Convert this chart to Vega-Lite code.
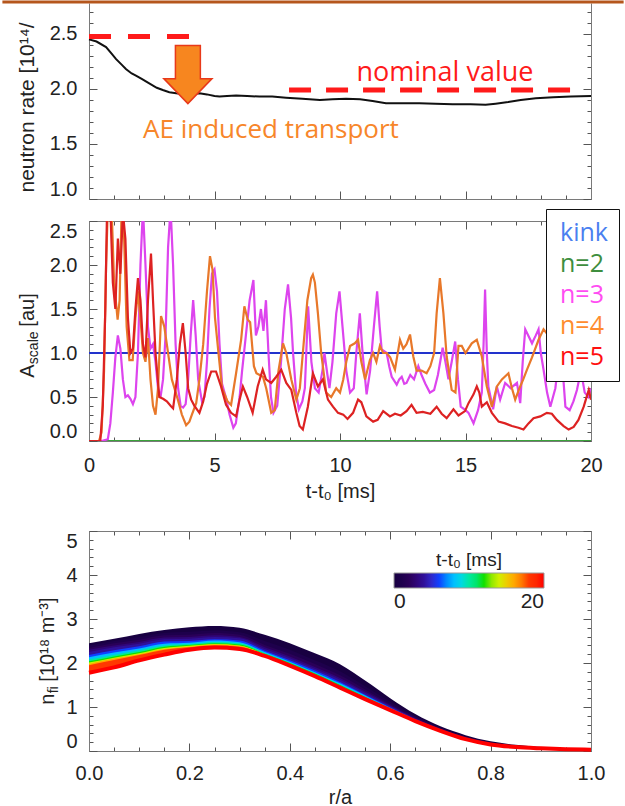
{
  "$schema": "https://vega.github.io/schema/vega-lite/v6.json",
  "padding": 0,
  "background": "white",
  "config": {
    "view": {"stroke": "#7a7a7a", "strokeWidth": 1},
    "axis": {"domainColor": "#7a7a7a", "tickColor": "#555555", "labelFont": "Liberation Sans", "labelFontSize": 20, "labelColor": "#222222", "titleFont": "Liberation Sans", "titleFontSize": 20, "titleFontWeight": "normal", "titleColor": "#222222", "grid": false, "labelOverlap": false, "labelBound": false}
  },
  "datasets": {
    "neutron": [{"t":0,"v":2.45},{"t":0.3,"v":2.43},{"t":0.68,"v":2.38},{"t":0.9,"v":2.32},{"t":1.08,"v":2.27},{"t":1.3,"v":2.22},{"t":1.47,"v":2.18},{"t":1.7,"v":2.14},{"t":1.87,"v":2.12},{"t":2.1,"v":2.09},{"t":2.4,"v":2.05},{"t":2.7,"v":2.01},{"t":2.94,"v":1.99},{"t":3.2,"v":1.97},{"t":3.47,"v":1.96},{"t":3.87,"v":1.95},{"t":4.1,"v":1.955},{"t":4.4,"v":1.96},{"t":4.7,"v":1.95},{"t":5.0,"v":1.935},{"t":5.2,"v":1.93},{"t":5.5,"v":1.935},{"t":5.86,"v":1.94},{"t":6.3,"v":1.935},{"t":6.79,"v":1.93},{"t":7.3,"v":1.93},{"t":7.85,"v":1.92},{"t":8.5,"v":1.91},{"t":9.2,"v":1.9},{"t":9.7,"v":1.905},{"t":10.24,"v":1.91},{"t":10.8,"v":1.905},{"t":11.3,"v":1.89},{"t":11.83,"v":1.87},{"t":12.5,"v":1.87},{"t":13.16,"v":1.87},{"t":13.8,"v":1.865},{"t":14.49,"v":1.86},{"t":15.2,"v":1.86},{"t":15.8,"v":1.855},{"t":16.2,"v":1.865},{"t":16.7,"v":1.88},{"t":17.2,"v":1.9},{"t":17.8,"v":1.915},{"t":18.5,"v":1.925},{"t":19.2,"v":1.93},{"t":20,"v":1.935}],
    "ascale": [
      {"s":"n=2","t":0,"v":0},{"s":"n=2","t":20,"v":0},
      {"s":"kink","t":0,"v":1},{"s":"kink","t":20,"v":1},
      {"s":"n=3","t":0,"v":0},{"s":"n=3","t":0.5,"v":0},{"s":"n=3","t":0.75,"v":0.02},{"s":"n=3","t":0.85,"v":0.2},{"s":"n=3","t":0.95,"v":0.55},{"s":"n=3","t":1.05,"v":0.95},{"s":"n=3","t":1.15,"v":1.2},{"s":"n=3","t":1.25,"v":1.05},{"s":"n=3","t":1.35,"v":0.7},{"s":"n=3","t":1.45,"v":0.5},{"s":"n=3","t":1.55,"v":0.52},{"s":"n=3","t":1.65,"v":0.48},{"s":"n=3","t":1.75,"v":0.42},{"s":"n=3","t":1.85,"v":0.5},{"s":"n=3","t":1.95,"v":1.0},{"s":"n=3","t":2.05,"v":2.0},{"s":"n=3","t":2.15,"v":2.65},{"s":"n=3","t":2.25,"v":2.0},{"s":"n=3","t":2.35,"v":1.3},{"s":"n=3","t":2.45,"v":1.05},{"s":"n=3","t":2.55,"v":1.1},{"s":"n=3","t":2.65,"v":0.9},{"s":"n=3","t":2.75,"v":0.6},{"s":"n=3","t":2.85,"v":0.5},{"s":"n=3","t":2.95,"v":0.7},{"s":"n=3","t":3.05,"v":1.2},{"s":"n=3","t":3.15,"v":2.2},{"s":"n=3","t":3.25,"v":2.65},{"s":"n=3","t":3.35,"v":2.0},{"s":"n=3","t":3.45,"v":1.1},{"s":"n=3","t":3.55,"v":0.6},{"s":"n=3","t":3.65,"v":0.4},{"s":"n=3","t":3.75,"v":0.38},{"s":"n=3","t":3.85,"v":0.42},{"s":"n=3","t":3.95,"v":0.7},{"s":"n=3","t":4.05,"v":1.2},{"s":"n=3","t":4.15,"v":1.6},{"s":"n=3","t":4.25,"v":1.2},{"s":"n=3","t":4.35,"v":0.7},{"s":"n=3","t":4.5,"v":0.45},{"s":"n=3","t":4.6,"v":0.5},{"s":"n=3","t":4.7,"v":0.9},{"s":"n=3","t":4.8,"v":1.5},{"s":"n=3","t":4.9,"v":1.9},{"s":"n=3","t":5.0,"v":1.95},{"s":"n=3","t":5.1,"v":1.7},{"s":"n=3","t":5.2,"v":1.1},{"s":"n=3","t":5.3,"v":0.65},{"s":"n=3","t":5.45,"v":0.5},{"s":"n=3","t":5.6,"v":0.3},{"s":"n=3","t":5.75,"v":0.15},{"s":"n=3","t":5.85,"v":0.2},{"s":"n=3","t":6.0,"v":0.5},{"s":"n=3","t":6.1,"v":0.8},{"s":"n=3","t":6.25,"v":1.2},{"s":"n=3","t":6.4,"v":1.6},{"s":"n=3","t":6.55,"v":1.83},{"s":"n=3","t":6.65,"v":1.2},{"s":"n=3","t":6.75,"v":1.3},{"s":"n=3","t":6.85,"v":1.5},{"s":"n=3","t":6.95,"v":1.25},{"s":"n=3","t":7.05,"v":1.6},{"s":"n=3","t":7.15,"v":1.0},{"s":"n=3","t":7.25,"v":0.5},{"s":"n=3","t":7.35,"v":0.32},{"s":"n=3","t":7.5,"v":0.4},{"s":"n=3","t":7.65,"v":0.9},{"s":"n=3","t":7.8,"v":1.5},{"s":"n=3","t":7.93,"v":1.78},{"s":"n=3","t":8.05,"v":1.4},{"s":"n=3","t":8.13,"v":1.0},{"s":"n=3","t":8.25,"v":0.55},{"s":"n=3","t":8.36,"v":0.36},{"s":"n=3","t":8.5,"v":0.45},{"s":"n=3","t":8.6,"v":0.6},{"s":"n=3","t":8.73,"v":1.53},{"s":"n=3","t":8.86,"v":0.9},{"s":"n=3","t":9.0,"v":0.6},{"s":"n=3","t":9.15,"v":0.55},{"s":"n=3","t":9.3,"v":0.8},{"s":"n=3","t":9.38,"v":1.0},{"s":"n=3","t":9.5,"v":0.75},{"s":"n=3","t":9.58,"v":0.6},{"s":"n=3","t":9.7,"v":0.9},{"s":"n=3","t":9.85,"v":1.45},{"s":"n=3","t":9.98,"v":1.7},{"s":"n=3","t":10.1,"v":1.3},{"s":"n=3","t":10.25,"v":0.8},{"s":"n=3","t":10.4,"v":0.55},{"s":"n=3","t":10.55,"v":0.6},{"s":"n=3","t":10.65,"v":1.0},{"s":"n=3","t":10.79,"v":1.45},{"s":"n=3","t":10.9,"v":1.0},{"s":"n=3","t":11.06,"v":0.53},{"s":"n=3","t":11.2,"v":0.8},{"s":"n=3","t":11.35,"v":1.3},{"s":"n=3","t":11.48,"v":1.7},{"s":"n=3","t":11.58,"v":1.3},{"s":"n=3","t":11.66,"v":1.04},{"s":"n=3","t":11.86,"v":1.0},{"s":"n=3","t":11.96,"v":0.85},{"s":"n=3","t":12.06,"v":0.73},{"s":"n=3","t":12.26,"v":0.64},{"s":"n=3","t":12.36,"v":0.7},{"s":"n=3","t":12.46,"v":0.73},{"s":"n=3","t":12.56,"v":0.65},{"s":"n=3","t":12.65,"v":0.66},{"s":"n=3","t":12.8,"v":0.75},{"s":"n=3","t":12.95,"v":0.7},{"s":"n=3","t":13.12,"v":0.85},{"s":"n=3","t":13.25,"v":0.75},{"s":"n=3","t":13.4,"v":0.65},{"s":"n=3","t":13.58,"v":0.55},{"s":"n=3","t":13.75,"v":0.58},{"s":"n=3","t":13.9,"v":0.75},{"s":"n=3","t":14.09,"v":1.06},{"s":"n=3","t":14.2,"v":0.9},{"s":"n=3","t":14.32,"v":0.7},{"s":"n=3","t":14.45,"v":0.9},{"s":"n=3","t":14.59,"v":1.13},{"s":"n=3","t":14.7,"v":0.7},{"s":"n=3","t":14.81,"v":0.39},{"s":"n=3","t":15.0,"v":0.35},{"s":"n=3","t":15.12,"v":0.32},{"s":"n=3","t":15.32,"v":0.2},{"s":"n=3","t":15.5,"v":0.35},{"s":"n=3","t":15.65,"v":0.55},{"s":"n=3","t":15.72,"v":1.1},{"s":"n=3","t":15.78,"v":1.72},{"s":"n=3","t":15.85,"v":1.0},{"s":"n=3","t":15.91,"v":0.62},{"s":"n=3","t":16.1,"v":0.36},{"s":"n=3","t":16.25,"v":0.62},{"s":"n=3","t":16.38,"v":0.47},{"s":"n=3","t":16.58,"v":0.66},{"s":"n=3","t":16.8,"v":0.6},{"s":"n=3","t":17.05,"v":0.66},{"s":"n=3","t":17.18,"v":0.43},{"s":"n=3","t":17.28,"v":0.9},{"s":"n=3","t":17.38,"v":1.27},{"s":"n=3","t":17.5,"v":1.2},{"s":"n=3","t":17.65,"v":1.11},{"s":"n=3","t":17.8,"v":1.2},{"s":"n=3","t":17.91,"v":1.27},{"s":"n=3","t":18.0,"v":1.0},{"s":"n=3","t":18.11,"v":0.81},{"s":"n=3","t":18.25,"v":0.55},{"s":"n=3","t":18.38,"v":0.39},{"s":"n=3","t":18.58,"v":0.6},{"s":"n=3","t":18.78,"v":1.08},{"s":"n=3","t":18.9,"v":0.7},{"s":"n=3","t":18.98,"v":0.39},{"s":"n=3","t":19.15,"v":0.35},{"s":"n=3","t":19.3,"v":0.45},{"s":"n=3","t":19.44,"v":0.58},{"s":"n=3","t":19.6,"v":0.8},{"s":"n=3","t":19.75,"v":0.55},{"s":"n=3","t":19.9,"v":0.5},{"s":"n=3","t":20.0,"v":0.6},
      {"s":"n=4","t":0,"v":0},{"s":"n=4","t":0.4,"v":0},{"s":"n=4","t":0.5,"v":0.1},{"s":"n=4","t":0.6,"v":0.8},{"s":"n=4","t":0.68,"v":2.0},{"s":"n=4","t":0.75,"v":2.65},{"s":"n=4","t":0.9,"v":2.65},{"s":"n=4","t":1.0,"v":1.8},{"s":"n=4","t":1.14,"v":1.38},{"s":"n=4","t":1.22,"v":1.6},{"s":"n=4","t":1.3,"v":2.65},{"s":"n=4","t":1.4,"v":2.3},{"s":"n=4","t":1.5,"v":1.3},{"s":"n=4","t":1.61,"v":0.92},{"s":"n=4","t":1.74,"v":0.92},{"s":"n=4","t":1.85,"v":1.4},{"s":"n=4","t":1.95,"v":1.7},{"s":"n=4","t":2.05,"v":1.4},{"s":"n=4","t":2.15,"v":1.0},{"s":"n=4","t":2.25,"v":0.9},{"s":"n=4","t":2.35,"v":1.17},{"s":"n=4","t":2.45,"v":0.7},{"s":"n=4","t":2.55,"v":0.4},{"s":"n=4","t":2.65,"v":0.3},{"s":"n=4","t":2.75,"v":0.6},{"s":"n=4","t":2.87,"v":1.42},{"s":"n=4","t":3.0,"v":1.3},{"s":"n=4","t":3.1,"v":1.1},{"s":"n=4","t":3.3,"v":0.7},{"s":"n=4","t":3.54,"v":0.47},{"s":"n=4","t":3.7,"v":0.3},{"s":"n=4","t":3.87,"v":0.18},{"s":"n=4","t":4.0,"v":0.22},{"s":"n=4","t":4.1,"v":0.3},{"s":"n=4","t":4.27,"v":0.43},{"s":"n=4","t":4.4,"v":0.7},{"s":"n=4","t":4.55,"v":1.1},{"s":"n=4","t":4.7,"v":1.7},{"s":"n=4","t":4.82,"v":2.1},{"s":"n=4","t":4.92,"v":1.95},{"s":"n=4","t":5.02,"v":1.4},{"s":"n=4","t":5.13,"v":1.08},{"s":"n=4","t":5.3,"v":0.6},{"s":"n=4","t":5.52,"v":0.45},{"s":"n=4","t":5.66,"v":0.41},{"s":"n=4","t":5.86,"v":0.77},{"s":"n=4","t":6.06,"v":1.15},{"s":"n=4","t":6.19,"v":1.53},{"s":"n=4","t":6.32,"v":1.38},{"s":"n=4","t":6.42,"v":1.35},{"s":"n=4","t":6.57,"v":0.85},{"s":"n=4","t":6.67,"v":0.77},{"s":"n=4","t":6.8,"v":0.75},{"s":"n=4","t":6.93,"v":0.73},{"s":"n=4","t":7.06,"v":0.6},{"s":"n=4","t":7.26,"v":0.32},{"s":"n=4","t":7.4,"v":0.35},{"s":"n=4","t":7.55,"v":0.8},{"s":"n=4","t":7.73,"v":1.11},{"s":"n=4","t":7.86,"v":1.0},{"s":"n=4","t":8.06,"v":0.7},{"s":"n=4","t":8.26,"v":0.47},{"s":"n=4","t":8.4,"v":0.6},{"s":"n=4","t":8.55,"v":1.1},{"s":"n=4","t":8.7,"v":1.6},{"s":"n=4","t":8.85,"v":1.85},{"s":"n=4","t":8.92,"v":1.89},{"s":"n=4","t":9.0,"v":1.8},{"s":"n=4","t":9.12,"v":1.45},{"s":"n=4","t":9.25,"v":1.0},{"s":"n=4","t":9.45,"v":0.55},{"s":"n=4","t":9.65,"v":0.5},{"s":"n=4","t":9.85,"v":0.6},{"s":"n=4","t":10.0,"v":0.55},{"s":"n=4","t":10.13,"v":0.7},{"s":"n=4","t":10.25,"v":0.9},{"s":"n=4","t":10.4,"v":1.08},{"s":"n=4","t":10.59,"v":1.11},{"s":"n=4","t":10.72,"v":1.15},{"s":"n=4","t":10.85,"v":0.9},{"s":"n=4","t":11.0,"v":0.7},{"s":"n=4","t":11.19,"v":0.92},{"s":"n=4","t":11.32,"v":1.0},{"s":"n=4","t":11.45,"v":0.9},{"s":"n=4","t":11.59,"v":1.08},{"s":"n=4","t":11.72,"v":1.0},{"s":"n=4","t":11.86,"v":1.0},{"s":"n=4","t":12.0,"v":0.95},{"s":"n=4","t":12.19,"v":0.81},{"s":"n=4","t":12.39,"v":1.15},{"s":"n=4","t":12.52,"v":1.05},{"s":"n=4","t":12.65,"v":1.1},{"s":"n=4","t":12.79,"v":1.21},{"s":"n=4","t":12.92,"v":0.96},{"s":"n=4","t":13.05,"v":0.8},{"s":"n=4","t":13.25,"v":0.8},{"s":"n=4","t":13.45,"v":0.77},{"s":"n=4","t":13.6,"v":0.85},{"s":"n=4","t":13.75,"v":1.0},{"s":"n=4","t":13.85,"v":1.45},{"s":"n=4","t":13.98,"v":1.85},{"s":"n=4","t":14.12,"v":1.45},{"s":"n=4","t":14.25,"v":0.96},{"s":"n=4","t":14.45,"v":0.58},{"s":"n=4","t":14.6,"v":0.55},{"s":"n=4","t":14.72,"v":1.08},{"s":"n=4","t":14.85,"v":1.08},{"s":"n=4","t":15.0,"v":1.0},{"s":"n=4","t":15.25,"v":1.11},{"s":"n=4","t":15.45,"v":1.15},{"s":"n=4","t":15.65,"v":0.96},{"s":"n=4","t":15.85,"v":0.62},{"s":"n=4","t":16.05,"v":0.39},{"s":"n=4","t":16.25,"v":0.62},{"s":"n=4","t":16.45,"v":0.7},{"s":"n=4","t":16.71,"v":0.77},{"s":"n=4","t":16.85,"v":0.6},{"s":"n=4","t":16.98,"v":0.47},{"s":"n=4","t":17.15,"v":0.6},{"s":"n=4","t":17.3,"v":0.7},{"s":"n=4","t":17.45,"v":0.81},{"s":"n=4","t":17.65,"v":0.95},{"s":"n=4","t":17.91,"v":1.15},{"s":"n=4","t":18.11,"v":1.27},{"s":"n=4","t":18.3,"v":1.2},{"s":"n=4","t":18.6,"v":1.1},{"s":"n=4","t":19.0,"v":0.9},{"s":"n=4","t":19.4,"v":1.0},{"s":"n=4","t":19.7,"v":0.8},{"s":"n=4","t":20.0,"v":0.7},
      {"s":"n=5","t":0,"v":0},{"s":"n=5","t":0.45,"v":0},{"s":"n=5","t":0.55,"v":0.4},{"s":"n=5","t":0.65,"v":1.5},{"s":"n=5","t":0.72,"v":2.65},{"s":"n=5","t":0.85,"v":2.65},{"s":"n=5","t":0.95,"v":1.8},{"s":"n=5","t":1.05,"v":1.5},{"s":"n=5","t":1.15,"v":2.3},{"s":"n=5","t":1.25,"v":1.9},{"s":"n=5","t":1.35,"v":2.6},{"s":"n=5","t":1.45,"v":2.3},{"s":"n=5","t":1.55,"v":1.4},{"s":"n=5","t":1.65,"v":1.0},{"s":"n=5","t":1.75,"v":1.05},{"s":"n=5","t":1.85,"v":1.5},{"s":"n=5","t":1.95,"v":1.85},{"s":"n=5","t":2.05,"v":1.6},{"s":"n=5","t":2.15,"v":1.1},{"s":"n=5","t":2.25,"v":0.95},{"s":"n=5","t":2.35,"v":1.6},{"s":"n=5","t":2.47,"v":2.13},{"s":"n=5","t":2.55,"v":1.6},{"s":"n=5","t":2.65,"v":1.0},{"s":"n=5","t":2.8,"v":0.5},{"s":"n=5","t":2.95,"v":0.48},{"s":"n=5","t":3.1,"v":0.45},{"s":"n=5","t":3.25,"v":0.4},{"s":"n=5","t":3.35,"v":0.37},{"s":"n=5","t":3.5,"v":0.7},{"s":"n=5","t":3.62,"v":1.1},{"s":"n=5","t":3.74,"v":1.34},{"s":"n=5","t":3.85,"v":1.0},{"s":"n=5","t":3.95,"v":0.6},{"s":"n=5","t":4.07,"v":0.47},{"s":"n=5","t":4.2,"v":0.4},{"s":"n=5","t":4.4,"v":0.32},{"s":"n=5","t":4.55,"v":0.45},{"s":"n=5","t":4.7,"v":0.65},{"s":"n=5","t":4.87,"v":0.79},{"s":"n=5","t":5.06,"v":0.79},{"s":"n=5","t":5.26,"v":0.62},{"s":"n=5","t":5.46,"v":0.41},{"s":"n=5","t":5.66,"v":0.32},{"s":"n=5","t":5.86,"v":0.28},{"s":"n=5","t":6.0,"v":0.47},{"s":"n=5","t":6.13,"v":0.62},{"s":"n=5","t":6.3,"v":0.5},{"s":"n=5","t":6.52,"v":0.32},{"s":"n=5","t":6.72,"v":0.62},{"s":"n=5","t":6.92,"v":0.81},{"s":"n=5","t":7.05,"v":0.7},{"s":"n=5","t":7.26,"v":0.66},{"s":"n=5","t":7.46,"v":0.73},{"s":"n=5","t":7.66,"v":0.81},{"s":"n=5","t":7.86,"v":0.66},{"s":"n=5","t":8.06,"v":0.58},{"s":"n=5","t":8.26,"v":0.32},{"s":"n=5","t":8.39,"v":0.17},{"s":"n=5","t":8.52,"v":0.13},{"s":"n=5","t":8.72,"v":0.39},{"s":"n=5","t":8.92,"v":0.77},{"s":"n=5","t":9.12,"v":0.62},{"s":"n=5","t":9.32,"v":0.7},{"s":"n=5","t":9.52,"v":0.47},{"s":"n=5","t":9.72,"v":0.39},{"s":"n=5","t":9.92,"v":0.32},{"s":"n=5","t":10.13,"v":0.3},{"s":"n=5","t":10.3,"v":0.25},{"s":"n=5","t":10.52,"v":0.32},{"s":"n=5","t":10.72,"v":0.47},{"s":"n=5","t":10.85,"v":0.44},{"s":"n=5","t":11.05,"v":0.28},{"s":"n=5","t":11.32,"v":0.22},{"s":"n=5","t":11.5,"v":0.24},{"s":"n=5","t":11.72,"v":0.34},{"s":"n=5","t":11.99,"v":0.28},{"s":"n=5","t":12.19,"v":0.31},{"s":"n=5","t":12.42,"v":0.29},{"s":"n=5","t":12.65,"v":0.34},{"s":"n=5","t":12.85,"v":0.41},{"s":"n=5","t":13.05,"v":0.32},{"s":"n=5","t":13.3,"v":0.33},{"s":"n=5","t":13.6,"v":0.31},{"s":"n=5","t":13.85,"v":0.39},{"s":"n=5","t":14.05,"v":0.31},{"s":"n=5","t":14.25,"v":0.26},{"s":"n=5","t":14.52,"v":0.36},{"s":"n=5","t":14.72,"v":0.29},{"s":"n=5","t":14.98,"v":0.34},{"s":"n=5","t":15.12,"v":0.43},{"s":"n=5","t":15.32,"v":0.53},{"s":"n=5","t":15.45,"v":0.62},{"s":"n=5","t":15.55,"v":0.55},{"s":"n=5","t":15.65,"v":0.39},{"s":"n=5","t":15.85,"v":0.44},{"s":"n=5","t":16.05,"v":0.32},{"s":"n=5","t":16.32,"v":0.22},{"s":"n=5","t":16.58,"v":0.2},{"s":"n=5","t":16.85,"v":0.17},{"s":"n=5","t":17.11,"v":0.15},{"s":"n=5","t":17.31,"v":0.13},{"s":"n=5","t":17.51,"v":0.2},{"s":"n=5","t":17.71,"v":0.26},{"s":"n=5","t":17.98,"v":0.28},{"s":"n=5","t":18.24,"v":0.32},{"s":"n=5","t":18.44,"v":0.31},{"s":"n=5","t":18.64,"v":0.24},{"s":"n=5","t":18.91,"v":0.17},{"s":"n=5","t":19.11,"v":0.13},{"s":"n=5","t":19.31,"v":0.16},{"s":"n=5","t":19.5,"v":0.24},{"s":"n=5","t":19.71,"v":0.39},{"s":"n=5","t":19.91,"v":0.58},{"s":"n=5","t":20.0,"v":0.47}
    ],
    "nfi": [
      {"t":0,"r":0,"n":2.45},{"t":0,"r":0.05,"n":2.55},{"t":0,"r":0.1,"n":2.66},{"t":0,"r":0.15,"n":2.75},{"t":0,"r":0.2,"n":2.81},{"t":0,"r":0.25,"n":2.84},{"t":0,"r":0.3,"n":2.8},{"t":0,"r":0.35,"n":2.64},{"t":0,"r":0.4,"n":2.45},{"t":0,"r":0.45,"n":2.22},{"t":0,"r":0.5,"n":1.97},{"t":0,"r":0.55,"n":1.6},{"t":0,"r":0.6,"n":1.2},{"t":0,"r":0.65,"n":0.84},{"t":0,"r":0.7,"n":0.56},{"t":0,"r":0.75,"n":0.36},{"t":0,"r":0.8,"n":0.22},{"t":0,"r":0.85,"n":0.14},{"t":0,"r":0.9,"n":0.09},{"t":0,"r":0.95,"n":0.06},{"t":0,"r":1,"n":0.04},
      {"t":1,"r":0,"n":2.4},{"t":1,"r":0.05,"n":2.5},{"t":1,"r":0.1,"n":2.59},{"t":1,"r":0.15,"n":2.68},{"t":1,"r":0.2,"n":2.71},{"t":1,"r":0.25,"n":2.74},{"t":1,"r":0.3,"n":2.7},{"t":1,"r":0.35,"n":2.5},{"t":1,"r":0.4,"n":2.3},{"t":1,"r":0.45,"n":2.06},{"t":1,"r":0.5,"n":1.81},{"t":1,"r":0.55,"n":1.47},{"t":1,"r":0.6,"n":1.12},{"t":1,"r":0.65,"n":0.79},{"t":1,"r":0.7,"n":0.53},{"t":1,"r":0.75,"n":0.333},{"t":1,"r":0.8,"n":0.199},{"t":1,"r":0.85,"n":0.125},{"t":1,"r":0.9,"n":0.081},{"t":1,"r":0.95,"n":0.054},{"t":1,"r":1,"n":0.037},
      {"t":2,"r":0,"n":2.34},{"t":2,"r":0.05,"n":2.45},{"t":2,"r":0.1,"n":2.53},{"t":2,"r":0.15,"n":2.63},{"t":2,"r":0.2,"n":2.64},{"t":2,"r":0.25,"n":2.68},{"t":2,"r":0.3,"n":2.64},{"t":2,"r":0.35,"n":2.41},{"t":2,"r":0.4,"n":2.21},{"t":2,"r":0.45,"n":1.98},{"t":2,"r":0.5,"n":1.72},{"t":2,"r":0.55,"n":1.4},{"t":2,"r":0.6,"n":1.07},{"t":2,"r":0.65,"n":0.765},{"t":2,"r":0.7,"n":0.513},{"t":2,"r":0.75,"n":0.318},{"t":2,"r":0.8,"n":0.187},{"t":2,"r":0.85,"n":0.117},{"t":2,"r":0.9,"n":0.076},{"t":2,"r":0.95,"n":0.051},{"t":2,"r":1,"n":0.035},
      {"t":3,"r":0,"n":2.3},{"t":3,"r":0.05,"n":2.4},{"t":3,"r":0.1,"n":2.48},{"t":3,"r":0.15,"n":2.58},{"t":3,"r":0.2,"n":2.59},{"t":3,"r":0.25,"n":2.63},{"t":3,"r":0.3,"n":2.59},{"t":3,"r":0.35,"n":2.36},{"t":3,"r":0.4,"n":2.15},{"t":3,"r":0.45,"n":1.91},{"t":3,"r":0.5,"n":1.66},{"t":3,"r":0.55,"n":1.35},{"t":3,"r":0.6,"n":1.04},{"t":3,"r":0.65,"n":0.746},{"t":3,"r":0.7,"n":0.501},{"t":3,"r":0.75,"n":0.307},{"t":3,"r":0.8,"n":0.179},{"t":3,"r":0.85,"n":0.11},{"t":3,"r":0.9,"n":0.072},{"t":3,"r":0.95,"n":0.048},{"t":3,"r":1,"n":0.034},
      {"t":4,"r":0,"n":2.25},{"t":4,"r":0.05,"n":2.36},{"t":4,"r":0.1,"n":2.44},{"t":4,"r":0.15,"n":2.54},{"t":4,"r":0.2,"n":2.55},{"t":4,"r":0.25,"n":2.59},{"t":4,"r":0.3,"n":2.56},{"t":4,"r":0.35,"n":2.32},{"t":4,"r":0.4,"n":2.11},{"t":4,"r":0.45,"n":1.87},{"t":4,"r":0.5,"n":1.62},{"t":4,"r":0.55,"n":1.32},{"t":4,"r":0.6,"n":1.02},{"t":4,"r":0.65,"n":0.733},{"t":4,"r":0.7,"n":0.493},{"t":4,"r":0.75,"n":0.3},{"t":4,"r":0.8,"n":0.173},{"t":4,"r":0.85,"n":0.107},{"t":4,"r":0.9,"n":0.07},{"t":4,"r":0.95,"n":0.047},{"t":4,"r":1,"n":0.033},
      {"t":6,"r":0,"n":2.18},{"t":6,"r":0.05,"n":2.29},{"t":6,"r":0.1,"n":2.38},{"t":6,"r":0.15,"n":2.49},{"t":6,"r":0.2,"n":2.5},{"t":6,"r":0.25,"n":2.54},{"t":6,"r":0.3,"n":2.51},{"t":6,"r":0.35,"n":2.28},{"t":6,"r":0.4,"n":2.06},{"t":6,"r":0.45,"n":1.83},{"t":6,"r":0.5,"n":1.57},{"t":6,"r":0.55,"n":1.28},{"t":6,"r":0.6,"n":0.995},{"t":6,"r":0.65,"n":0.718},{"t":6,"r":0.7,"n":0.484},{"t":6,"r":0.75,"n":0.292},{"t":6,"r":0.8,"n":0.167},{"t":6,"r":0.85,"n":0.102},{"t":6,"r":0.9,"n":0.067},{"t":6,"r":0.95,"n":0.045},{"t":6,"r":1,"n":0.032},
      {"t":8,"r":0,"n":2.13},{"t":8,"r":0.05,"n":2.24},{"t":8,"r":0.1,"n":2.33},{"t":8,"r":0.15,"n":2.44},{"t":8,"r":0.2,"n":2.46},{"t":8,"r":0.25,"n":2.51},{"t":8,"r":0.3,"n":2.47},{"t":8,"r":0.35,"n":2.25},{"t":8,"r":0.4,"n":2.03},{"t":8,"r":0.45,"n":1.79},{"t":8,"r":0.5,"n":1.54},{"t":8,"r":0.55,"n":1.26},{"t":8,"r":0.6,"n":0.98},{"t":8,"r":0.65,"n":0.709},{"t":8,"r":0.7,"n":0.478},{"t":8,"r":0.75,"n":0.286},{"t":8,"r":0.8,"n":0.163},{"t":8,"r":0.85,"n":0.099},{"t":8,"r":0.9,"n":0.065},{"t":8,"r":0.95,"n":0.044},{"t":8,"r":1,"n":0.032},
      {"t":10,"r":0,"n":2.08},{"t":10,"r":0.05,"n":2.19},{"t":10,"r":0.1,"n":2.29},{"t":10,"r":0.15,"n":2.4},{"t":10,"r":0.2,"n":2.43},{"t":10,"r":0.25,"n":2.48},{"t":10,"r":0.3,"n":2.45},{"t":10,"r":0.35,"n":2.23},{"t":10,"r":0.4,"n":2.01},{"t":10,"r":0.45,"n":1.77},{"t":10,"r":0.5,"n":1.51},{"t":10,"r":0.55,"n":1.24},{"t":10,"r":0.6,"n":0.97},{"t":10,"r":0.65,"n":0.702},{"t":10,"r":0.7,"n":0.474},{"t":10,"r":0.75,"n":0.283},{"t":10,"r":0.8,"n":0.16},{"t":10,"r":0.85,"n":0.097},{"t":10,"r":0.9,"n":0.064},{"t":10,"r":0.95,"n":0.043},{"t":10,"r":1,"n":0.031},
      {"t":12,"r":0,"n":2.04},{"t":12,"r":0.05,"n":2.15},{"t":12,"r":0.1,"n":2.25},{"t":12,"r":0.15,"n":2.37},{"t":12,"r":0.2,"n":2.41},{"t":12,"r":0.25,"n":2.45},{"t":12,"r":0.3,"n":2.42},{"t":12,"r":0.35,"n":2.21},{"t":12,"r":0.4,"n":2.0},{"t":12,"r":0.45,"n":1.76},{"t":12,"r":0.5,"n":1.5},{"t":12,"r":0.55,"n":1.23},{"t":12,"r":0.6,"n":0.96},{"t":12,"r":0.65,"n":0.698},{"t":12,"r":0.7,"n":0.471},{"t":12,"r":0.75,"n":0.28},{"t":12,"r":0.8,"n":0.158},{"t":12,"r":0.85,"n":0.096},{"t":12,"r":0.9,"n":0.063},{"t":12,"r":0.95,"n":0.042},{"t":12,"r":1,"n":0.031},
      {"t":14,"r":0,"n":2.01},{"t":14,"r":0.05,"n":2.12},{"t":14,"r":0.1,"n":2.22},{"t":14,"r":0.15,"n":2.34},{"t":14,"r":0.2,"n":2.39},{"t":14,"r":0.25,"n":2.43},{"t":14,"r":0.3,"n":2.4},{"t":14,"r":0.35,"n":2.2},{"t":14,"r":0.4,"n":1.98},{"t":14,"r":0.45,"n":1.74},{"t":14,"r":0.5,"n":1.48},{"t":14,"r":0.55,"n":1.21},{"t":14,"r":0.6,"n":0.95},{"t":14,"r":0.65,"n":0.693},{"t":14,"r":0.7,"n":0.468},{"t":14,"r":0.75,"n":0.277},{"t":14,"r":0.8,"n":0.156},{"t":14,"r":0.85,"n":0.094},{"t":14,"r":0.9,"n":0.062},{"t":14,"r":0.95,"n":0.042},{"t":14,"r":1,"n":0.031},
      {"t":16,"r":0,"n":1.98},{"t":16,"r":0.05,"n":2.1},{"t":16,"r":0.1,"n":2.2},{"t":16,"r":0.15,"n":2.32},{"t":16,"r":0.2,"n":2.37},{"t":16,"r":0.25,"n":2.42},{"t":16,"r":0.3,"n":2.39},{"t":16,"r":0.35,"n":2.19},{"t":16,"r":0.4,"n":1.97},{"t":16,"r":0.45,"n":1.73},{"t":16,"r":0.5,"n":1.47},{"t":16,"r":0.55,"n":1.21},{"t":16,"r":0.6,"n":0.946},{"t":16,"r":0.65,"n":0.69},{"t":16,"r":0.7,"n":0.466},{"t":16,"r":0.75,"n":0.275},{"t":16,"r":0.8,"n":0.154},{"t":16,"r":0.85,"n":0.093},{"t":16,"r":0.9,"n":0.062},{"t":16,"r":0.95,"n":0.041},{"t":16,"r":1,"n":0.03},
      {"t":18,"r":0,"n":1.95},{"t":18,"r":0.05,"n":2.07},{"t":18,"r":0.1,"n":2.18},{"t":18,"r":0.15,"n":2.3},{"t":18,"r":0.2,"n":2.36},{"t":18,"r":0.25,"n":2.4},{"t":18,"r":0.3,"n":2.37},{"t":18,"r":0.35,"n":2.18},{"t":18,"r":0.4,"n":1.96},{"t":18,"r":0.45,"n":1.72},{"t":18,"r":0.5,"n":1.46},{"t":18,"r":0.55,"n":1.2},{"t":18,"r":0.6,"n":0.94},{"t":18,"r":0.65,"n":0.686},{"t":18,"r":0.7,"n":0.464},{"t":18,"r":0.75,"n":0.274},{"t":18,"r":0.8,"n":0.153},{"t":18,"r":0.85,"n":0.092},{"t":18,"r":0.9,"n":0.061},{"t":18,"r":0.95,"n":0.041},{"t":18,"r":1,"n":0.03},
      {"t":20,"r":0,"n":1.78},{"t":20,"r":0.05,"n":1.9},{"t":20,"r":0.1,"n":2.06},{"t":20,"r":0.15,"n":2.19},{"t":20,"r":0.2,"n":2.3},{"t":20,"r":0.25,"n":2.35},{"t":20,"r":0.3,"n":2.32},{"t":20,"r":0.35,"n":2.16},{"t":20,"r":0.4,"n":1.94},{"t":20,"r":0.45,"n":1.7},{"t":20,"r":0.5,"n":1.44},{"t":20,"r":0.55,"n":1.18},{"t":20,"r":0.6,"n":0.93},{"t":20,"r":0.65,"n":0.68},{"t":20,"r":0.7,"n":0.46},{"t":20,"r":0.75,"n":0.27},{"t":20,"r":0.8,"n":0.15},{"t":20,"r":0.85,"n":0.09},{"t":20,"r":0.9,"n":0.06},{"t":20,"r":0.95,"n":0.04},{"t":20,"r":1,"n":0.03}
    ]
  },
  "spacing": 22,
  "bounds": "flush",
  "resolve": {"scale": {"x": "independent", "y": "independent", "color": "independent"}, "legend": {"color": "independent"}},
  "vconcat": [
    {
      "width": 502, "height": 196,
      "view": {"stroke": null},
      "resolve": {"axis": {"x": "independent", "y": "independent"}},
      "layer": [
        {
          "data": {"name": "neutron"},
          "mark": {"type": "line", "color": "#111111", "strokeWidth": 2},
          "encoding": {
            "x": {"field": "t", "type": "quantitative", "scale": {"domain": [0, 20], "nice": false, "zero": false},
              "axis": {"orient": "bottom", "values": [0,1,2,3,4,5,6,7,8,9,10,11,12,13,14,15,16,17,18,19,20], "labels": false, "title": null,
                "tickSize": {"condition": {"test": "datum.value % 5 == 0", "value": -8}, "value": -4}}},
            "y": {"field": "v", "type": "quantitative", "scale": {"domain": [1.0, 2.78], "nice": false, "zero": false},
              "axis": {"orient": "left", "values": [1,1.1,1.2,1.3,1.4,1.5,1.6,1.7,1.8,1.9,2,2.1,2.2,2.3,2.4,2.5,2.6,2.7],
                "labelExpr": "abs(datum.value*2-round(datum.value*2))<0.01 ? format(datum.value,'.1f') : ''",
                "tickSize": {"condition": {"test": "abs(datum.value*2-round(datum.value*2))<0.01", "value": -8}, "value": -4},
                "labelPadding": 20, "labelFlush": true, "title": null}}
          }
        },
        {
          "data": {"values": [{}]},
          "mark": {"type": "text", "text": "neutron rate [10¹⁴/", "angle": 270, "align": "left", "baseline": "alphabetic", "font": "Liberation Sans", "fontSize": 21, "color": "#222222"},
          "encoding": {
            "x": {"datum": -2.2, "type": "quantitative", "axis": null},
            "y": {"datum": 1.059, "type": "quantitative",
              "axis": {"orient": "right", "values": [1,1.1,1.2,1.3,1.4,1.5,1.6,1.7,1.8,1.9,2,2.1,2.2,2.3,2.4,2.5,2.6,2.7], "labels": false, "title": null,
                "tickSize": {"condition": {"test": "abs(datum.value*2-round(datum.value*2))<0.01", "value": -8}, "value": -4}}}
          }
        },
        {
          "data": {"values": [{}]},
          "mark": {"type": "rule", "color": "#ff1a1a", "strokeWidth": 5, "strokeDash": [22, 17]},
          "encoding": {"x": {"datum": 0, "type": "quantitative", "axis": null}, "x2": {"datum": 4.6}, "y": {"datum": 2.475, "type": "quantitative", "axis": null}}
        },
        {
          "data": {"values": [{}]},
          "mark": {"type": "rule", "color": "#ff1a1a", "strokeWidth": 5, "strokeDash": [22, 15]},
          "encoding": {"x": {"datum": 7.97, "type": "quantitative", "axis": null}, "x2": {"datum": 19.35}, "y": {"datum": 1.99, "type": "quantitative", "axis": null}}
        },
        {
          "data": {"values": [{}]},
          "mark": {"type": "point", "shape": "M-0.43,-1L0.43,-1L0.43,0.14L0.83,0.14L0,1L-0.83,0.14L-0.43,0.14Z", "size": 3364, "filled": true, "fill": "#f7861f", "stroke": "#e8391a", "strokeWidth": 1.5, "opacity": 1},
          "encoding": {"x": {"datum": 3.94, "type": "quantitative", "axis": null}, "y": {"datum": 2.13, "type": "quantitative", "axis": null}}
        },
        {
          "data": {"values": [{}]},
          "mark": {"type": "text", "text": "nominal value", "align": "center", "baseline": "alphabetic", "font": "Open Sans", "fontSize": 27, "color": "#ff1a1a"},
          "encoding": {"x": {"datum": 14.18, "type": "quantitative", "axis": null}, "y": {"datum": 2.075, "type": "quantitative", "axis": null}}
        },
        {
          "data": {"values": [{}]},
          "mark": {"type": "text", "text": "AE induced transport", "align": "center", "baseline": "alphabetic", "font": "Open Sans", "fontSize": 26, "color": "#f7862a"},
          "encoding": {"x": {"datum": 7.25, "type": "quantitative", "axis": null}, "y": {"datum": 1.557, "type": "quantitative", "axis": null}}
        },
        {
          "data": {"values": [{}]},
          "mark": {"type": "rule", "color": "#b5561c", "strokeWidth": 3},
          "encoding": {"x": {"datum": -3.45, "type": "quantitative", "axis": null}, "x2": {"datum": 21.3}, "y": {"datum": 2.79, "type": "quantitative", "axis": null}}
        }
      ]
    },
    {
      "spacing": 90,
      "bounds": "flush",
      "resolve": {"scale": {"x": "independent", "y": "independent", "color": "independent"}, "legend": {"color": "independent"}},
      "vconcat": [
        {
          "width": 502, "height": 220,
          "resolve": {"axis": {"x": "independent", "y": "independent"}},
          "layer": [
            {
              "data": {"name": "ascale"},
              "mark": {"type": "line", "clip": true, "strokeWidth": 2.2},
              "encoding": {
                "x": {"field": "t", "type": "quantitative", "scale": {"domain": [0, 20], "nice": false, "zero": false},
                  "axis": {"orient": "bottom", "values": [0,1,2,3,4,5,6,7,8,9,10,11,12,13,14,15,16,17,18,19,20],
                    "labelExpr": "datum.value % 5 == 0 ? format(datum.value,'d') : ''",
                    "tickSize": {"condition": {"test": "datum.value % 5 == 0", "value": -8}, "value": -4},
                    "labelPadding": 22, "labelFlush": false, "title": "t-t₀ [ms]", "titlePadding": 2}},
                "y": {"field": "v", "type": "quantitative", "scale": {"domain": [0, 2.5], "nice": false, "zero": false},
                  "axis": {"orient": "left", "values": [0,0.1,0.2,0.3,0.4,0.5,0.6,0.7,0.8,0.9,1,1.1,1.2,1.3,1.4,1.5,1.6,1.7,1.8,1.9,2,2.1,2.2,2.3,2.4,2.5],
                    "labelExpr": "abs(datum.value*2-round(datum.value*2))<0.01 ? format(datum.value,'.1f') : ''",
                    "tickSize": {"condition": {"test": "abs(datum.value*2-round(datum.value*2))<0.01", "value": -8}, "value": -4},
                    "labelPadding": 20, "labelFlush": true, "title": null}},
                "color": {"field": "s", "type": "nominal",
                  "scale": {"domain": ["kink", "n=2", "n=3", "n=4", "n=5"], "range": ["#2233cc", "#3aa33a", "#dd44ee", "#e8782a", "#dd2222"]},
                  "legend": {"orient": "none", "legendX": 457, "legendY": -12, "title": null, "symbolOpacity": 0, "symbolSize": 0, "symbolStrokeWidth": 0, "labelOffset": -22,
                    "labelFont": "Open Sans", "labelFontSize": 25, "labelLimit": 0, "rowPadding": 5, "padding": 11, "strokeColor": "#111111", "fillColor": "#ffffff",
                    "labelColor": {"expr": "datum.label == 'kink' ? '#4a7ff0' : datum.label == 'n=2' ? '#3e8e3e' : datum.label == 'n=3' ? '#ff4df2' : datum.label == 'n=4' ? '#ff8c2e' : '#ff1010'"}}}
              }
            },
            {
              "data": {"values": [{}]},
              "mark": {"type": "text", "text": "A", "angle": 270, "align": "left", "baseline": "alphabetic", "font": "Liberation Sans", "fontSize": 20, "color": "#222222"},
              "encoding": {
                "x": {"datum": -2.19, "type": "quantitative",
                  "axis": {"orient": "top", "values": [0,1,2,3,4,5,6,7,8,9,10,11,12,13,14,15,16,17,18,19,20], "labels": false, "title": null,
                    "tickSize": {"condition": {"test": "datum.value % 5 == 0", "value": -8}, "value": -4}}},
                "y": {"datum": 0.72, "type": "quantitative",
                  "axis": {"orient": "right", "values": [0,0.1,0.2,0.3,0.4,0.5,0.6,0.7,0.8,0.9,1,1.1,1.2,1.3,1.4,1.5,1.6,1.7,1.8,1.9,2,2.1,2.2,2.3,2.4,2.5], "labels": false, "title": null,
                    "tickSize": {"condition": {"test": "abs(datum.value*2-round(datum.value*2))<0.01", "value": -8}, "value": -4}}}
              }
            },
            {
              "data": {"values": [{}]},
              "mark": {"type": "text", "text": "scale", "angle": 270, "align": "left", "baseline": "alphabetic", "font": "Liberation Sans", "fontSize": 14, "dx": 13.5, "dy": 4, "color": "#222222"},
              "encoding": {"x": {"datum": -2.19, "type": "quantitative", "axis": null}, "y": {"datum": 0.72, "type": "quantitative", "axis": null}}
            },
            {
              "data": {"values": [{}]},
              "mark": {"type": "text", "text": "[au]", "angle": 270, "align": "left", "baseline": "alphabetic", "font": "Liberation Sans", "fontSize": 20, "dx": 51, "color": "#222222"},
              "encoding": {"x": {"datum": -2.19, "type": "quantitative", "axis": null}, "y": {"datum": 0.72, "type": "quantitative", "axis": null}}
            }
          ]
        },
        {
          "width": 502, "height": 220,
          "resolve": {"axis": {"x": "independent", "y": "independent"}},
          "layer": [
            {
              "data": {"name": "nfi"},
              "transform": [{"joinaggregate": [{"op": "min", "field": "n", "as": "nmin"}], "groupby": ["r"]}],
              "mark": {"type": "area", "interpolate": "monotone", "opacity": 1},
              "encoding": {
                "x": {"field": "r", "type": "quantitative", "scale": {"domain": [0, 1], "nice": false, "zero": false},
                  "axis": {"orient": "bottom", "values": [0,0.05,0.1,0.15,0.2,0.25,0.3,0.35,0.4,0.45,0.5,0.55,0.6,0.65,0.7,0.75,0.8,0.85,0.9,0.95,1],
                    "labelExpr": "abs(datum.value*5-round(datum.value*5))<0.01 ? format(datum.value,'.1f') : ''",
                    "tickSize": {"condition": {"test": "abs(datum.value*5-round(datum.value*5))<0.01", "value": -8}, "value": -4},
                    "labelPadding": 20, "labelFlush": false, "title": "r/a", "titlePadding": 0}},
                "y": {"field": "n", "type": "quantitative", "stack": null, "scale": {"domain": [0, 5], "nice": false, "zero": false},
                  "axis": {"orient": "left", "values": [0,0.2,0.4,0.6,0.8,1,1.2,1.4,1.6,1.8,2,2.2,2.4,2.6,2.8,3,3.2,3.4,3.6,3.8,4,4.2,4.4,4.6,4.8,5],
                    "labelExpr": "abs(datum.value-round(datum.value))<0.01 ? format(datum.value,'d') : ''",
                    "tickSize": {"condition": {"test": "abs(datum.value-round(datum.value))<0.01", "value": -8}, "value": -4},
                    "labelPadding": 20, "labelFlush": true, "title": null}},
                "y2": {"field": "nmin"},
                "color": {"field": "t", "type": "quantitative",
                  "scale": {"domain": [0, 20], "range": ["#000000", "#2a0058", "#30109a", "#1040ff", "#00c0ff", "#00e8a0", "#10e000", "#d0f000", "#ffa800", "#ff3800", "#ff0000"]},
                  "legend": {"orient": "none", "legendX": 305, "legendY": 20, "direction": "horizontal", "title": "t-t₀ [ms]", "titleFont": "Liberation Sans", "titleFontSize": 19, "titleFontWeight": "normal", "titleColor": "#222222", "titleAnchor": "middle", "titlePadding": 3,
                    "gradientLength": 150, "gradientThickness": 15, "gradientStrokeColor": "#999999", "gradientStrokeWidth": 1, "values": [0, 20],
                    "labelFont": "Liberation Sans", "labelFontSize": 21, "labelColor": "#222222", "labelOffset": 3, "padding": 0}},
                "detail": {"field": "t"}
              }
            },
            {
              "data": {"name": "nfi"},
              "transform": [{"filter": "datum.t == 20"}],
              "mark": {"type": "line", "interpolate": "monotone", "color": "#ff0000", "strokeWidth": 4},
              "encoding": {"x": {"field": "r", "type": "quantitative", "axis": null}, "y": {"field": "n", "type": "quantitative", "axis": null}}
            },
            {
              "data": {"values": [{}]},
              "mark": {"type": "text", "text": "n", "angle": 270, "align": "left", "baseline": "alphabetic", "font": "Liberation Sans", "fontSize": 20, "color": "#222222"},
              "encoding": {
                "x": {"datum": -0.07, "type": "quantitative",
                  "axis": {"orient": "top", "values": [0,0.05,0.1,0.15,0.2,0.25,0.3,0.35,0.4,0.45,0.5,0.55,0.6,0.65,0.7,0.75,0.8,0.85,0.9,0.95,1], "labels": false, "title": null,
                    "tickSize": {"condition": {"test": "abs(datum.value*5-round(datum.value*5))<0.01", "value": -8}, "value": -4}}},
                "y": {"datum": 1.05, "type": "quantitative",
                  "axis": {"orient": "right", "values": [0,0.2,0.4,0.6,0.8,1,1.2,1.4,1.6,1.8,2,2.2,2.4,2.6,2.8,3,3.2,3.4,3.6,3.8,4,4.2,4.4,4.6,4.8,5], "labels": false, "title": null,
                    "tickSize": {"condition": {"test": "abs(datum.value-round(datum.value))<0.01", "value": -8}, "value": -4}}}
              }
            },
            {
              "data": {"values": [{}]},
              "mark": {"type": "text", "text": "fi", "angle": 270, "align": "left", "baseline": "alphabetic", "font": "Liberation Sans", "fontSize": 14, "dx": 11.5, "dy": 4, "color": "#222222"},
              "encoding": {"x": {"datum": -0.07, "type": "quantitative", "axis": null}, "y": {"datum": 1.05, "type": "quantitative", "axis": null}}
            },
            {
              "data": {"values": [{}]},
              "mark": {"type": "text", "text": "[10¹⁸ m⁻³]", "angle": 270, "align": "left", "baseline": "alphabetic", "font": "Liberation Sans", "fontSize": 20, "dx": 23, "color": "#222222"},
              "encoding": {"x": {"datum": -0.07, "type": "quantitative", "axis": null}, "y": {"datum": 1.05, "type": "quantitative", "axis": null}}
            }
          ]
        }
      ]
    }
  ]
}
